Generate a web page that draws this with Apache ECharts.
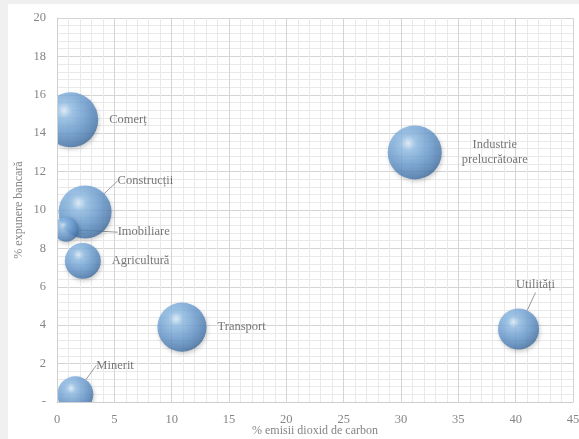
<!DOCTYPE html>
<html>
<head>
<meta charset="utf-8">
<script src="https://cdn.jsdelivr.net/npm/echarts@6/dist/echarts.min.js"></script>
<style>
  html, body { margin: 0; padding: 0; background: #f0f0f0; overflow: hidden; }
  #card { position: absolute; left: 8px; top: 4px; width: 571px; height: 435px; background: #ffffff; }
</style>
</head>
<body>
<div id="card"></div>
<script>
// Sector names
const sectors = ['Comerț', 'Construcții', 'Imobiliare', 'Agricultură', 'Transport', 'Minerit', 'Industrie\nprelucrătoare', 'Utilități'];
// % emisii dioxid de carbon
const emisii = [1.2, 2.45, 0.8, 2.25, 10.9, 1.6, 31.2, 40.25];
// % expunere bancară
const expunere = [14.7, 9.9, 9.0, 7.35, 3.9, 0.4, 13.0, 3.8];
// Bubble weights
const ponderi = [15.4, 14.3, 3.2, 6.6, 12.3, 6.6, 14.9, 8.6];

const xTicks = { min: 0, max: 45, interval: 5 };
const yTicks = { min: 0, max: 20, interval: 2 };

// Label placement relative to each bubble (dx, dy, guide line)
const labelPlacement = [
  { dx: 6, dy: 0, line: false },
  { dx: 1, dy: -31, line: true },
  { dx: 34, dy: 3, line: true },
  { dx: 6, dy: 0, line: false },
  { dx: 6, dy: 0, line: false },
  { dx: -2, dy: -29, line: true },
  { dx: 48, dy: 0, line: false, center: true },
  { dx: -28, dy: -44, line: true }
];

const W = 571, H = 435;
const grid = { left: 49, top: 14, right: 6, bottom: 37 };

const serif = '"Liberation Serif", "Times New Roman", serif';
const axisGrey = '#858585';

const bubbleFill = {
  type: 'radial', x: 0.38, y: 0.33, r: 0.72,
  colorStops: [
    { offset: 0, color: '#e2f2ff' },
    { offset: 0.2, color: '#93c1ea' },
    { offset: 0.6, color: '#6699cf' },
    { offset: 0.88, color: '#4a7bb0' },
    { offset: 1, color: '#3a6795' }
  ]
};

const data = sectors.map((name, i) => {
  const p = labelPlacement[i];
  return {
    name: name,
    value: [emisii[i], expunere[i], ponderi[i]],
    label: p.center ? { align: 'center' } : {},
    labelLine: { show: p.line }
  };
});

const chart = echarts.init(document.getElementById('card'), null, { width: W, height: H });

const commonX = { type: 'value', min: xTicks.min, max: xTicks.max, interval: xTicks.interval, gridIndex: 0 };
const commonY = { type: 'value', min: yTicks.min, max: yTicks.max, interval: yTicks.interval, gridIndex: 0 };

chart.setOption({
  animation: false,
  grid: Object.assign({ containLabel: false, outerBoundsMode: 'none' }, grid),
  xAxis: [
    Object.assign({}, commonX, {
      axisLine: { show: false }, axisTick: { show: false }, axisLabel: { show: false },
      splitLine: { show: true, lineStyle: { color: '#d4d4d4', width: 1 } },
      minorTick: { show: false, splitNumber: 5 },
      minorSplitLine: { show: true, lineStyle: { color: '#e9e9e9', width: 1 } }
    }),
    Object.assign({}, commonX, {
      position: 'bottom', z: 10,
      axisLine: { show: true, lineStyle: { color: '#cfcfcf' } },
      axisTick: { show: false },
      splitLine: { show: false },
      axisLabel: { color: axisGrey, fontFamily: serif, fontSize: 12.5, margin: 11 },
      name: '% emisii dioxid de carbon', nameLocation: 'middle', nameGap: 29,
      nameMoveOverlap: false,
      nameTextStyle: { color: axisGrey, fontFamily: serif, fontSize: 12, verticalAlign: 'middle' }
    })
  ],
  yAxis: [
    Object.assign({}, commonY, {
      axisLine: { show: false }, axisTick: { show: false }, axisLabel: { show: false },
      splitLine: { show: true, lineStyle: { color: '#d4d4d4', width: 1 } },
      minorTick: { show: false, splitNumber: 5 },
      minorSplitLine: { show: true, lineStyle: { color: '#e9e9e9', width: 1 } }
    }),
    Object.assign({}, commonY, {
      position: 'left', z: 10,
      axisLine: { show: true, lineStyle: { color: '#cfcfcf' } },
      axisTick: { show: false },
      splitLine: { show: false },
      axisLabel: {
        color: axisGrey, fontFamily: serif, fontSize: 12.5, margin: 11,
        formatter: v => (v === 0 ? '-' : String(v))
      },
      name: '% expunere bancară', nameLocation: 'middle', nameGap: 32,
      nameMoveOverlap: false,
      nameTextStyle: { color: axisGrey, fontFamily: serif, fontSize: 12 }
    })
  ],
  // Mask the bubble parts that fall outside the plotting area
  graphic: [
    { type: 'rect', z: 5, silent: true, shape: { x: 0, y: 0, width: grid.left, height: H }, style: { fill: '#ffffff' } },
    { type: 'rect', z: 5, silent: true, shape: { x: 0, y: H - grid.bottom, width: W, height: grid.bottom }, style: { fill: '#ffffff' } }
  ],
  series: [{
    type: 'scatter',
    xAxisIndex: 0,
    yAxisIndex: 0,
    data: data,
    symbolSize: v => 14 * Math.sqrt(v[2]),
    itemStyle: {
      color: bubbleFill,
      shadowColor: 'rgba(0,0,0,0.25)', shadowBlur: 4, shadowOffsetX: 1, shadowOffsetY: 2
    },
    label: {
      show: true,
      position: 'right',
      distance: 5,
      formatter: p => p.name,
      color: '#555555',
      fontFamily: serif,
      fontSize: 12.5,
      lineHeight: 15
    },
    labelLine: { show: false, lineStyle: { color: '#9a9a9a', width: 1 } },
    labelLayout: params => {
      const p = labelPlacement[params.dataIndex];
      return { dx: p.dx, dy: p.dy };
    }
  }]
});
</script>
</body>
</html>
